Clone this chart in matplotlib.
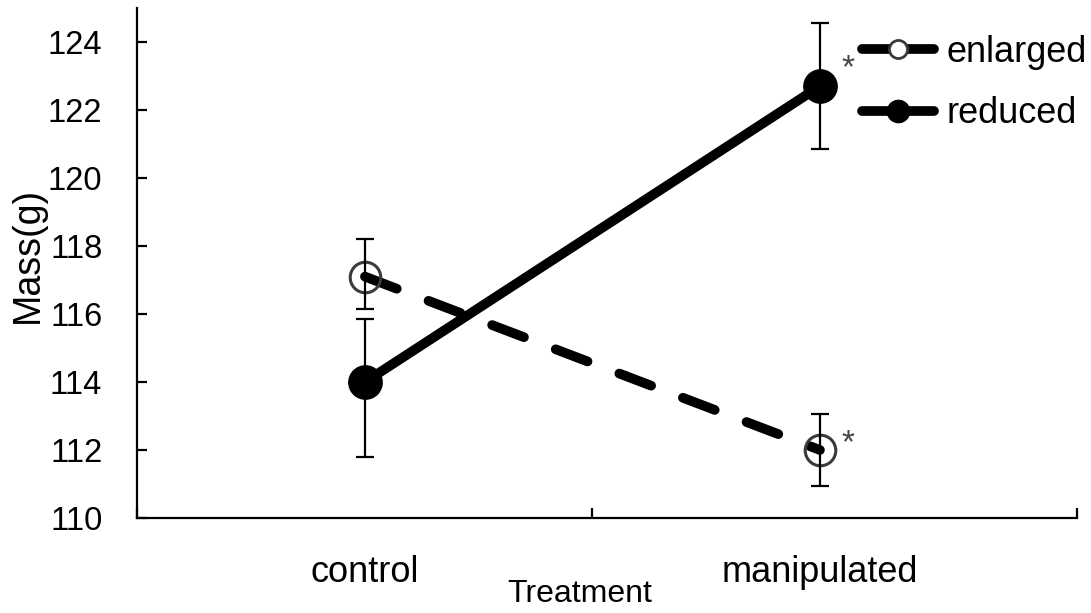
import numpy as np
from matplotlib import pyplot as plt
from matplotlib.lines import Line2D

plt.rcParams["font.family"] = ["Liberation Sans", "DejaVu Sans"]
plt.rcParams["font.size"] = 23.5

# data
treatments = ["control", "manipulated"]
enlarged = [117.1, 112.0]
enlarged_err_lo = [0.95, 1.05]
enlarged_err_hi = [1.1, 1.05]
reduced = [114.0, 122.7]
reduced_err_lo = [2.2, 1.85]
reduced_err_hi = [1.85, 1.85]
stars = ["*", "*"]

x = np.arange(len(treatments))

fig = plt.figure(figsize=(10.91, 6.13), dpi=100)
ax = fig.add_axes([137/1091, 1-518/613, (1077-137)/1091, (518-8)/613])

line_opts = dict(color='black', linewidth=7, solid_capstyle='round', dash_capstyle='round', zorder=3)
err_opts = dict(fmt='none', ecolor='black', elinewidth=1.6, capsize=6.5, capthick=1.6, zorder=4)

# error bars
ax.errorbar(x, enlarged, yerr=[enlarged_err_lo, enlarged_err_hi], **err_opts)
ax.errorbar(x, reduced, yerr=[reduced_err_lo, reduced_err_hi], **err_opts)

ax.plot(x, enlarged, linestyle=(0, (3.5, 3.5)), marker='o', markersize=22,
        markerfacecolor='none', markeredgecolor='#3a3a3a', markeredgewidth=2.2, **line_opts)
ax.plot(x, reduced, linestyle='-', marker='o', markersize=24,
        markerfacecolor='black', markeredgecolor='black', **line_opts)

# significance marks
ax.text(x[1] + 0.062, reduced[1] + 0.27, stars[1], fontsize=24, color='#444444', ha='center', va='baseline')
ax.text(x[1] + 0.062, enlarged[1] - 0.06, stars[0], fontsize=24, color='#444444', ha='center', va='baseline')

ax.set_ylim(110, 125)
ax.set_yticks(np.arange(110, 125, 2))
ax.set_xlim(-0.501, 1.565)
ax.set_xticks([-0.501, 0.5, 1.565])
ax.set_xticklabels([])
ax.set_xticks(x, minor=True)
ax.set_xticklabels(treatments, minor=True, fontsize=26)
ax.tick_params(axis='x', which='minor', length=0, pad=27)
ax.tick_params(axis='both', which='major', direction='in', length=7, width=1.6)
ax.tick_params(axis='y', pad=25)

for s in ['top', 'right']:
   ax.spines[s].set_visible(False)
for s in ['left', 'bottom']:
   ax.spines[s].set_linewidth(1.6)

fig.text(580/1091, 1-594/613, 'Treatment', ha='center', va='center', fontsize=23)
fig.text(28/1091, 1-255/613, 'Mass(g)', ha='center', va='center', rotation=90, fontsize=27)

handles = [Line2D([], [], color='black', linewidth=7, solid_capstyle='round', marker='o', markersize=13,
                  markerfacecolor='white', markeredgecolor='#3a3a3a', markeredgewidth=2),
           Line2D([], [], color='black', linewidth=7, solid_capstyle='round', marker='o', markersize=16,
                  markerfacecolor='black', markeredgecolor='black')]
ax.legend(handles, ['enlarged', 'reduced'], loc='upper left', bbox_to_anchor=(844/1091, 1-17/613),
          bbox_transform=fig.transFigure, frameon=False, borderpad=0, handlelength=2.0,
          handletextpad=0.33, labelspacing=0.73, fontsize=26)

plt.savefig('out.png')
